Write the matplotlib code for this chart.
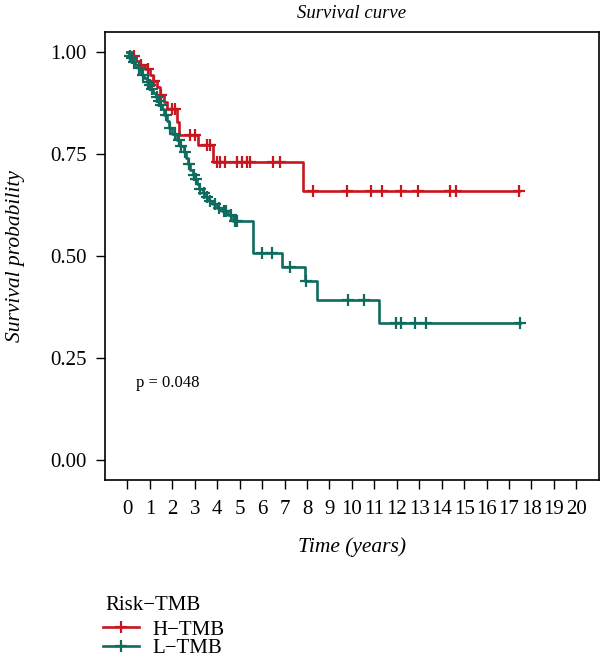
import numpy as np
import matplotlib.pyplot as plt
from matplotlib.lines import Line2D

plt.rcParams['font.family'] = ['Liberation Serif', 'DejaVu Serif']

# Kaplan-Meier steps (time in years, survival after drop)
h_times = [0.2, 0.4, 0.55, 0.8, 1.0, 1.15, 1.3, 1.45, 1.65, 1.75, 2.22, 2.3, 3.16, 3.82, 7.81]
h_surv = [0.99, 0.98, 0.97, 0.96, 0.945, 0.93, 0.915, 0.895, 0.878, 0.861, 0.83, 0.798, 0.773, 0.732, 0.660]
h_cens = [0.3, 0.6, 0.9, 1.2, 1.5, 2.0, 2.1, 2.8, 3.0, 3.56, 3.69, 4.0, 4.13, 4.36, 4.87,
          5.1, 5.32, 5.47, 6.5, 6.8, 8.28, 9.76, 10.87, 11.36, 12.18, 12.93, 14.36, 14.65, 17.44]

l_times = [0.08, 0.15, 0.25, 0.35, 0.45, 0.55, 0.65, 0.75, 0.85, 0.95, 1.05, 1.15, 1.25, 1.35,
           1.45, 1.55, 1.65, 1.75, 1.85, 2.0, 2.2, 2.35, 2.5, 2.6, 2.7, 2.8, 2.9, 3.0, 3.1, 3.2,
           3.35, 3.5, 3.65, 3.8, 4.0, 4.2, 4.5, 4.7, 5.58, 6.87, 7.9, 8.45, 11.2]
l_surv = [0.992, 0.985, 0.977, 0.969, 0.961, 0.953, 0.945, 0.937, 0.928, 0.919, 0.91, 0.90, 0.89,
          0.88, 0.87, 0.86, 0.847, 0.832, 0.815, 0.80, 0.785, 0.77, 0.755, 0.74, 0.727, 0.712,
          0.70, 0.688, 0.676, 0.665, 0.655, 0.645, 0.636, 0.627, 0.618, 0.61, 0.60, 0.585,
          0.508, 0.472, 0.439, 0.393, 0.336]
l_cens = [0.1, 0.2, 0.3, 0.5, 0.7, 0.9, 1.0, 1.1, 1.3, 1.4, 1.5, 1.7, 1.9, 2.1, 2.3, 2.4, 2.55,
          2.75, 2.95, 3.05, 3.25, 3.4, 3.55, 3.7, 3.9, 4.1, 4.3, 4.4, 4.6, 4.8, 4.9, 5.99, 6.43,
          7.24, 7.96, 9.84, 10.55, 11.98, 12.2, 12.8, 13.3, 17.47]

groups = ['H\u2212TMB', 'L\u2212TMB']
colors = ['#C8161E', '#0E6B5D']
p_text = 'p = 0.048'

fig = plt.figure(figsize=(6, 6.61), dpi=100)
ax = fig.add_axes([0.175, 0.2738, 0.823, 0.6778])


def km_plot(times, surv, cens, color):
    t = np.concatenate([[0], times, [max(cens)]])
    s = np.concatenate([[1.0], surv, [surv[-1]]])
    ax.step(t, s, where='post', color=color, lw=1.9)
    cens = np.array(cens)
    idx = np.searchsorted(times, cens, side='right')
    cs = np.concatenate([[1.0], surv])[idx]
    ax.plot(cens, cs, ls='none', marker='+', ms=8, mew=1.6, color=color)


km_plot(h_times, h_surv, h_cens, colors[0])
km_plot(l_times, l_surv, l_cens, colors[1])

ax.text(0.38, 0.188, p_text, fontsize=12, va='center')

ax.set_xlim(-1, 21)
ax.set_ylim(-0.05, 1.05)
ax.set_xticks(range(0, 21))
ax.set_yticks([0, 0.25, 0.5, 0.75, 1.0])
ax.set_yticklabels(['0.00', '0.25', '0.50', '0.75', '1.00'])
ax.tick_params(direction='out', length=6.5, width=1, labelsize=15)
ax.tick_params(axis='x', pad=8)
ax.tick_params(axis='y', pad=6.5)
for sp in ax.spines.values():
    sp.set_linewidth(1.2)

ax.set_title('Survival curve', fontsize=13.5, style='italic', pad=10)
ax.set_xlabel('Time (years)', fontsize=15.5, style='italic', labelpad=13)
ax.set_ylabel('Survival probability', fontsize=15.5, style='italic', labelpad=18)

# legend: title and entries placed separately below the plot
fig.text(0.175, 1 - 605 / 661, 'Risk\u2212TMB', fontsize=15, va='center', ha='left')
handles = [Line2D([], [], color=c, lw=1.9, marker='+', ms=8, mew=1.6) for c in colors]
leg = fig.legend(handles, groups, loc='upper left',
                 bbox_to_anchor=(0.172, 1 - 620 / 661), frameon=False, fontsize=15,
                 handlelength=1.7, labelspacing=-0.05, handletextpad=0.65,
                 borderpad=0.0, borderaxespad=0.0)

fig.savefig('out.png', dpi=100)
